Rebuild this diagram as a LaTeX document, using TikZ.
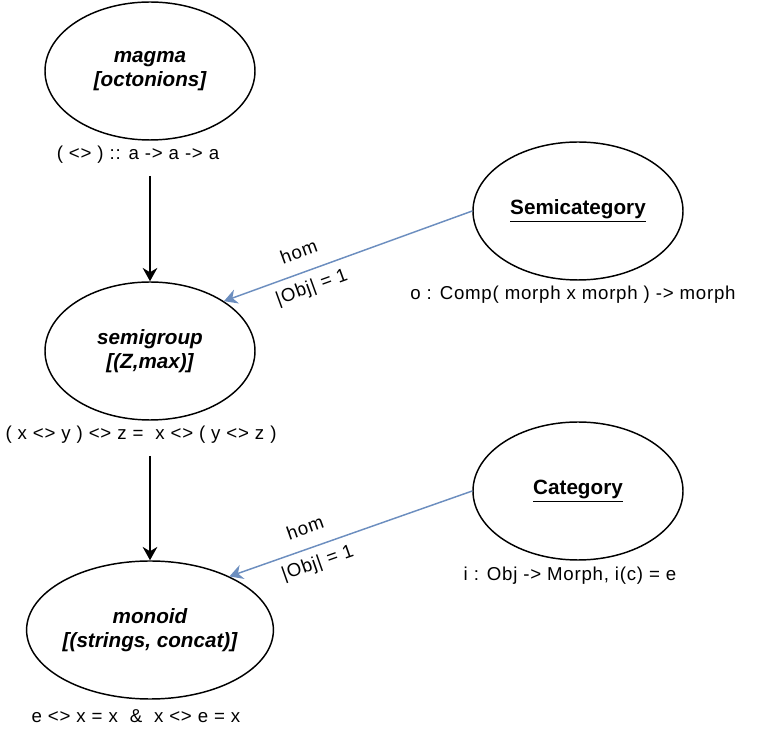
\documentclass[tikz,border=0pt]{standalone}
\usepackage{fontspec}
\setmainfont{Liberation Sans}
\newfontfamily\lblfont[LetterSpace=4]{Liberation Sans}
\usepackage{xcolor}
\usetikzlibrary{shapes.geometric,arrows.meta,positioning}
\definecolor{homblue}{HTML}{6C8EBF}

\begin{document}
\begin{tikzpicture}[
  x=0.75pt,y=-0.75pt,
  alg/.style={draw,ellipse,line width=1.1pt,minimum width=157.5pt,minimum height=103.5pt,inner sep=0pt,align=center,font=\fontsize{15.5}{18}\selectfont\bfseries\itshape},
  cat/.style={alg,font=\fontsize{15.5}{18}\selectfont\bfseries},
  lbl/.style={inner sep=1pt,font=\lblfont\fontsize{14}{16}\selectfont},
  arr/.style={-{Stealth[length=10pt,width=11pt]},line width=1.1pt},
  hom/.style={-{Stealth[length=10pt,width=11pt]},line width=1.1pt,draw=homblue},
  elbl/.style={sloped,inner sep=1pt,font=\lblfont\fontsize{14}{16}\selectfont},
]
  \useasboundingbox (0,0) rectangle (772,737);

  % algebraic structures
  \node[alg] (magma)     at (150,71)  {magma\\{}[octonions]};
  \node[alg] (semigroup) at (150,351) {semigroup\\{}[(Z,max)]};
  \node[alg] (monoid)    at (150,630) {monoid\\{}[(strings, concat)]};

  % categories
  \node[cat] (semicat)  at (578,211) {\underline{Semicategory}};
  \node[cat] (category) at (578,491) {\underline{Category}};

  % laws
  \node[lbl] (lmagma)    at (138,155) {( <> ) :: a -> a -> a};
  \node[lbl] (lsemigroup) at (141,435) {( x <> y ) <> z =\ \ x <> ( y <> z )};
  \node[lbl] (lmonoid)   at (136,716) {e <> x = x\ \ \&\ \ x <> e = x};
  \node[lbl] (lsemicat)  at (573,295) {o : Comp( morph x morph ) -> morph};
  \node[lbl] (lcategory) at (570,576) {i : Obj -> Morph, i(c) = e};

  \draw[arr,shorten <=8pt] (lmagma.south -| magma.south) -- (semigroup.north);
  \draw[arr,shorten <=8pt] (lsemigroup.south -| semigroup.south) -- (monoid.north);

  \draw[hom] (semicat.west) -- (semigroup.34)
    node[elbl,pos=0.67,above=9pt] {hom}
    node[elbl,pos=0.67,below=5pt] {|Obj| = 1};
  \draw[hom] (category.west) -- (monoid.34)
    node[elbl,pos=0.66,above=9pt] {hom}
    node[elbl,pos=0.66,below=5pt] {|Obj| = 1};
\end{tikzpicture}
\end{document}
